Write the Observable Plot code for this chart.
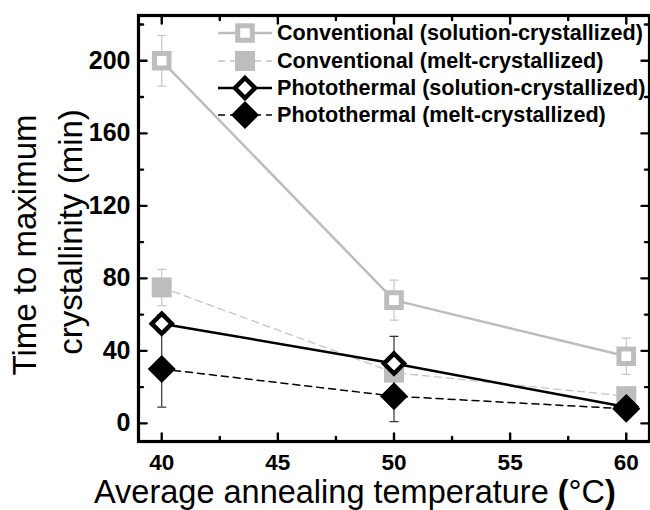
<!DOCTYPE html>
<html><head><meta charset="utf-8">
<script src="https://cdn.jsdelivr.net/npm/d3@7"></script>
<script src="https://cdn.jsdelivr.net/npm/@observablehq/plot@0.6"></script>
<style>
body{margin:0;background:#fff;}
#wrap{position:relative;width:650px;height:510px;font-family:"Liberation Sans",Arial,sans-serif;}
#wrap svg{display:block;}
</style></head><body><div id="wrap"></div>
<script>
// ---- data ----
const temps = [40, 50, 60];
const convSol = [200, 68, 37];
const convSolErr = [14, 11, 10];
const convMelt = [75, 28, 15];
const convMeltErr = [10, 4, 3];
const photoSol = [55, 33, 9];
const photoSolErr = [5, 15, 3];
const photoMelt = [30, 15, 8];
const photoMeltErr = [21, 14, 3];
const seriesNames = ["Conventional (solution-crystallized)", "Conventional (melt-crystallized)", "Photothermal (solution-crystallized)", "Photothermal (melt-crystallized)"];
const xTicks = [40, 45, 50, 55, 60];
const xMinor = [42.5, 47.5, 52.5, 57.5];
const yTicks = [0, 40, 80, 120, 160, 200];
const yMinor = [20, 60, 100, 140, 180, 220];
const xTitle = ["Average annealing temperature ", "(", "°C", ")"];
const yTitle = ["Time to maximum", "crystallinity (min)"];

// ---- styles ----
const square = {draw(c, s){const r = Math.sqrt(s/Math.PI); c.moveTo(-r,-r); c.lineTo(r,-r); c.lineTo(r,r); c.lineTo(-r,r); c.closePath();}};
const diamond = {draw(c, s){const r = Math.sqrt(s/Math.PI); c.moveTo(0,-r); c.lineTo(r,0); c.lineTo(0,r); c.lineTo(-r,0); c.closePath();}};
const styles = [
  {line:"#bdbdbd", lw:2.5, dash:null, sym:square, fill:"white", stroke:"#bdbdbd", sw:5, r:7.3, err:"#c6c6c6"},
  {line:"#c4c4c4", lw:1.3, dash:"7,5", sym:square, fill:"#bdbdbd", stroke:"none", sw:0, r:10, err:"#c6c6c6"},
  {line:"#000", lw:2.5, dash:null, sym:diamond, fill:"white", stroke:"#000", sw:4.5, r:10, err:"#333"},
  {line:"#000", lw:1.5, dash:"7,5", sym:diamond, fill:"#000", stroke:"none", sw:0, r:14, err:"#333"}
];
const values = [convSol, convMelt, photoSol, photoMelt];
const errs = [convSolErr, convMeltErr, photoSolErr, photoMeltErr];
const rows = values.map((v, i) => temps.map((t, j) => ({series: seriesNames[i], x: t, y: v[j], lo: v[j] - errs[i][j], hi: v[j] + errs[i][j]})));

const tick = {draw(c, l){c.moveTo(0,0); c.lineTo(0,-l);}};
const cap = {draw(c, l){c.moveTo(-l/2,0); c.lineTo(l/2,0);}};

const marks = [];
rows.forEach((r, i) => marks.push(Plot.line(r, {x:"x", y:"y", stroke:styles[i].line, strokeWidth:styles[i].lw, strokeDasharray:styles[i].dash})));
rows.forEach((r, i) => {
  marks.push(Plot.ruleX(r, {x:"x", y1:"lo", y2:"hi", stroke:styles[i].err, strokeWidth:1.2}));
  marks.push(Plot.vector(r, {x:"x", y:"lo", length:8, rotate:0, anchor:"start", shape:cap, stroke:styles[i].err, strokeWidth:1.2}));
  marks.push(Plot.vector(r, {x:"x", y:"hi", length:8, rotate:0, anchor:"start", shape:cap, stroke:styles[i].err, strokeWidth:1.2}));
});
rows.forEach((r, i) => marks.push(Plot.dot(r, {x:"x", y:"y", symbol:styles[i].sym, r:styles[i].r, fill:styles[i].fill, stroke:styles[i].stroke, strokeWidth:styles[i].sw, strokeLinejoin:"miter"})));

const tickSpec = [[xTicks, 8], [xMinor, 4.5]];
tickSpec.forEach(([arr, len]) => {
  marks.push(Plot.vector(arr, {x:d=>d, frameAnchor:"bottom", length:len, rotate:0, anchor:"start", shape:tick, stroke:"#000", strokeWidth:2.4}));
  marks.push(Plot.vector(arr, {x:d=>d, frameAnchor:"top", length:len, rotate:180, anchor:"start", shape:tick, stroke:"#000", strokeWidth:2.4}));
});
[[yTicks, 8], [yMinor, 4.5]].forEach(([arr, len]) => {
  marks.push(Plot.vector(arr, {y:d=>d, frameAnchor:"left", length:len, rotate:90, anchor:"start", shape:tick, stroke:"#000", strokeWidth:2.4}));
  marks.push(Plot.vector(arr, {y:d=>d, frameAnchor:"right", length:len, rotate:270, anchor:"start", shape:tick, stroke:"#000", strokeWidth:2.4}));
});
marks.push(Plot.frame({stroke:"#000", strokeWidth:3.2}));
marks.push(Plot.axisX({ticks:xTicks, tickSize:0, tickPadding:13, fontSize:22.5, fontWeight:"bold", label:null}));
marks.push(Plot.axisY({ticks:yTicks, tickSize:0, tickPadding:8, fontSize:25, fontWeight:"bold", label:null}));

const chart = Plot.plot({
  width:650, height:510,
  marginLeft:138, marginRight:1, marginTop:15, marginBottom:69,
  x:{domain:[39, 61]},
  y:{domain:[-10, 225]},
  style:{fontFamily:"'Liberation Sans', Arial, sans-serif", color:"#000", background:"#fff", overflow:"visible"},
  marks
});
const wrap = document.getElementById("wrap");
wrap.appendChild(chart);

// ---- overlay: legend + axis titles ----
const ov = d3.select(wrap).append("svg").attr("width",650).attr("height",510)
  .style("position","absolute").style("left","0px").style("top","0px")
  .style("font-family","'Liberation Sans', Arial, sans-serif");
const legY = [33, 61, 88, 115];
seriesNames.forEach((name, i) => {
  const s = styles[i];
  const g = ov.append("g").attr("transform", `translate(245,${legY[i]})`);
  g.append("line").attr("x1",-27).attr("x2",27).attr("stroke",s.line).attr("stroke-width",s.lw).attr("stroke-dasharray",s.dash);
  const size = s.r*s.r*Math.PI;
  const p = d3.path(); s.sym.draw(p, size);
  g.append("path").attr("d", p.toString()).attr("fill", s.fill).attr("stroke", s.stroke).attr("stroke-width", s.sw).attr("stroke-linejoin","miter");
  ov.append("text").attr("x",277).attr("y",legY[i]+7).attr("font-size",21.6).attr("font-weight","bold").text(name);
});
const xt = ov.append("text").attr("x",94).attr("y",503).attr("font-size",32.5);
xt.append("tspan").text(xTitle[0]);
xt.append("tspan").attr("font-weight","bold").text(xTitle[1]);
xt.append("tspan").text(xTitle[2]);
xt.append("tspan").attr("font-weight","bold").text(xTitle[3]);
ov.append("text").attr("transform","translate(36,245) rotate(-90)").attr("text-anchor","middle").attr("font-size",33).text(yTitle[0]);
ov.append("text").attr("transform","translate(82,232) rotate(-90)").attr("text-anchor","middle").attr("font-size",33).text(yTitle[1]);
</script></body></html>
